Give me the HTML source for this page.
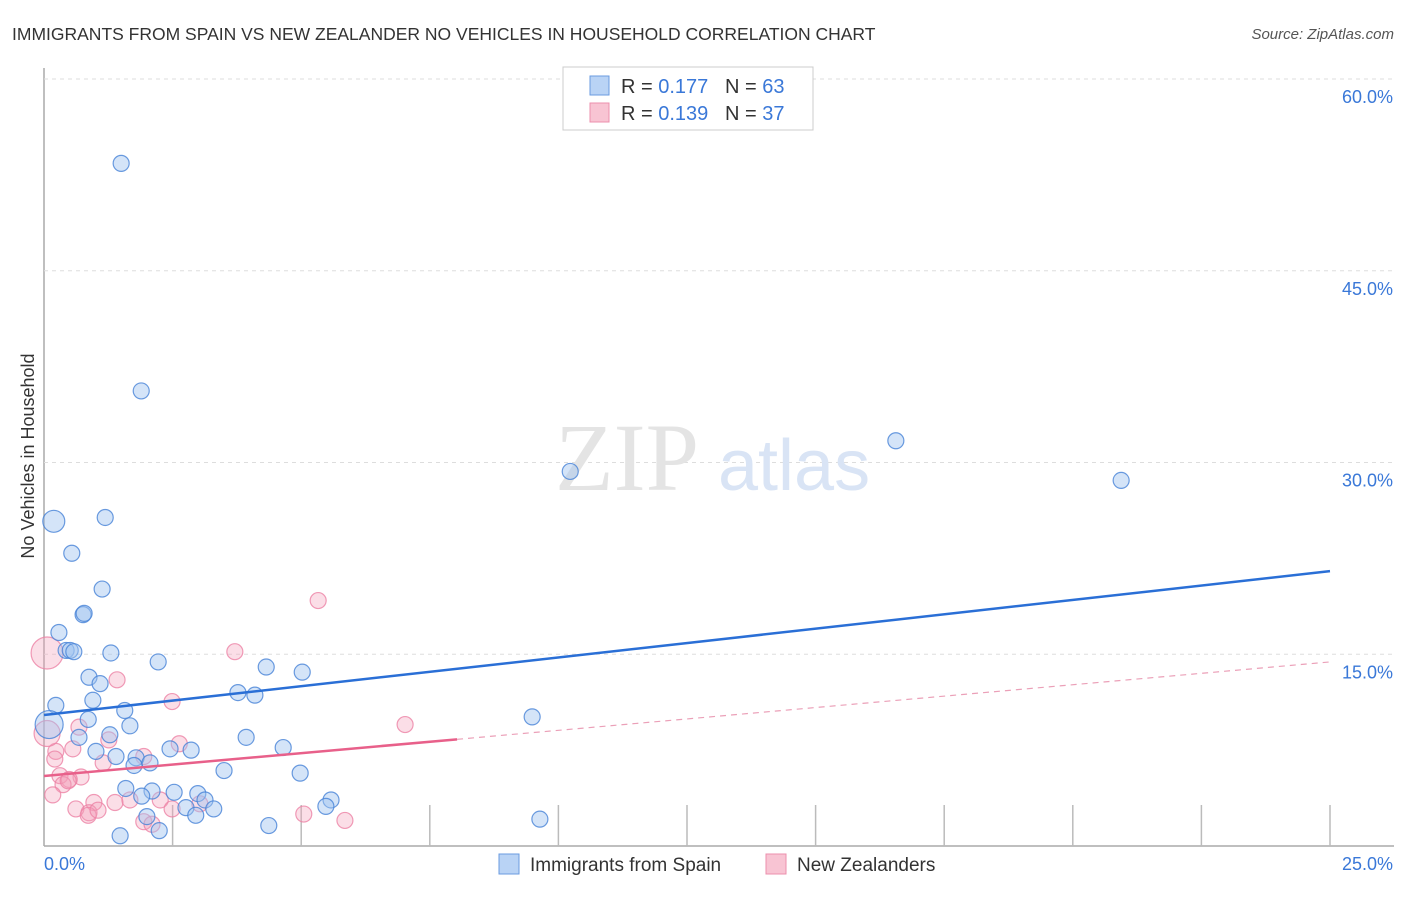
<!DOCTYPE html>
<html><head><meta charset="utf-8"><style>
body{margin:0;background:#fff;font-family:"Liberation Sans",sans-serif;}
svg text{font-family:"Liberation Sans",sans-serif;}
</style></head><body>
<svg id="chart" width="1406" height="892" xmlns="http://www.w3.org/2000/svg">
<text x="12" y="40" font-size="17.5" fill="#333">IMMIGRANTS FROM SPAIN VS NEW ZEALANDER NO VEHICLES IN HOUSEHOLD CORRELATION CHART</text>
<text x="1394" y="39" font-size="15" fill="#555" text-anchor="end" font-style="italic">Source: ZipAtlas.com</text>
<text x="0" y="0" transform="translate(34,456) rotate(-90)" font-size="18" fill="#333" text-anchor="middle">No Vehicles in Household</text>
<g id="grid"></g>
<text x="555" y="490" font-size="96" fill="#e4e4e4" style="font-family:'Liberation Serif',serif">ZIP</text>
<text x="718" y="490" font-size="72" fill="#d9e4f5">atlas</text>
<g id="points"></g>
<g id="trends"></g>
<g>
<rect x="563" y="67" width="250" height="63" fill="#fff" stroke="#ccc"/>
<rect x="590" y="76" width="19" height="19" fill="#b9d3f5" stroke="#6a9be0"/>
<rect x="590" y="103" width="19" height="19" fill="#f8c4d3" stroke="#ec8fac"/>
<text x="621" y="93" font-size="20" fill="#333">R = <tspan fill="#3a78d8">0.177</tspan>&#160;&#160;&#160;N = <tspan fill="#3a78d8">63</tspan></text>
<text x="621" y="120" font-size="20" fill="#333">R = <tspan fill="#3a78d8">0.139</tspan>&#160;&#160;&#160;N = <tspan fill="#3a78d8">37</tspan></text>
</g>
<g>
<rect x="499" y="854" width="20" height="20" fill="#b9d3f5" stroke="#6a9be0"/>
<text x="530" y="871" font-size="19" fill="#333">Immigrants from Spain</text>
<rect x="766" y="854" width="20" height="20" fill="#f8c4d3" stroke="#ec8fac"/>
<text x="797" y="871" font-size="19" fill="#333">New Zealanders</text>
</g>
</svg>
<script>
const yTicks=[15,30,45,60];
const yTickLabels=["15.0%","30.0%","45.0%","60.0%"];
const xTicks=[2.5,5,7.5,10,12.5,15,17.5,20,22.5,25];
const xEndLabels=["0.0%","25.0%"];
const spainX=[1.5,1.89,10.23,16.56,20.94,0.19,1.19,0.54,1.13,0.76,0.78,0.29,0.43,0.51,0.58,1.3,2.22,4.32,5.02,0.875,1.09,3.77,4.1,0.95,1.57,0.23,9.49,0.86,1.67,0.1,0.68,1.28,3.93,2.45,2.86,1.01,4.65,1.4,1.79,2.06,1.75,3.5,4.98,1.59,2.1,2.53,1.9,2.99,3.13,5.58,5.48,2.76,3.3,2.95,2.0,9.64,4.37,2.24,1.48];
const spainY=[53.4,35.6,29.3,31.7,28.6,25.4,25.7,22.9,20.1,18.1,18.2,16.7,15.3,15.3,15.2,15.1,14.4,14.0,13.6,13.2,12.7,12.0,11.8,11.4,10.6,11.0,10.1,9.9,9.4,9.5,8.5,8.7,8.5,7.6,7.5,7.4,7.7,7.0,6.9,6.5,6.3,5.9,5.7,4.5,4.3,4.2,3.9,4.1,3.6,3.6,3.1,3.0,2.9,2.4,2.3,2.1,1.6,1.2,0.8];
const spainR=[8,8,8,8,8,11,8,8,8,8,8,8,8,8,8,8,8,8,8,8,8,8,8,8,8,8,8,8,8,14,8,8,8,8,8,8,8,8,8,8,8,8,8,8,8,8,8,8,8,8,8,8,8,8,8,8,8,8,8];
const nzX=[0.06,5.33,3.71,1.42,2.49,7.02,0.68,1.26,2.63,0.23,1.94,0.56,1.15,0.21,0.72,0.31,0.49,0.37,0.47,0.17,1.38,1.67,2.26,0.97,0.62,0.875,0.86,1.05,3.03,2.49,5.05,5.85,1.94,2.1,0.06];
const nzY=[15.1,19.2,15.2,13.0,11.3,9.5,9.3,8.3,8.0,7.4,7.0,7.6,6.5,6.8,5.4,5.5,5.2,4.8,5.1,4.0,3.4,3.6,3.6,3.4,2.9,2.6,2.4,2.8,3.3,2.9,2.5,2.0,1.9,1.7,8.8];
const nzR=[16,8,8,8,8,8,8,8,8,8,8,8,8,8,8,8,8,8,8,8,8,8,8,8,8,8,8,8,8,8,8,8,8,8,13];
const spainTrend=[10.25,21.5];
const nzTrend=[5.48,14.4];
const nzSolidEnd=8.03;

const X0=44,X1=1330,Y0=846,Y60=79;
function sx(v){return X0+v*(X1-X0)/25;}
function sy(v){return Y0-v*(Y0-Y60)/60;}
const NS="http://www.w3.org/2000/svg";
function mk(tag,attrs,parent){const e=document.createElementNS(NS,tag);for(const k in attrs)e.setAttribute(k,attrs[k]);parent.appendChild(e);return e;}
const grid=document.getElementById('grid');
const ax=mk('line',{x1:X0,y1:68,x2:X0,y2:Y0,stroke:'#aaa','stroke-width':1.5},grid);


const bx=mk('line',{x1:X0,y1:Y0,x2:1394,y2:Y0,stroke:'#aaa','stroke-width':1.5},grid);


yTicks.forEach((t,i)=>{
 const g=mk('line',{x1:X0,y1:sy(t),x2:1394,y2:sy(t),stroke:'#ddd','stroke-dasharray':'4,4'},grid);
 
 
 const tx=mk('text',{x:1393,y:sy(t)+24,'font-size':18,fill:'#3a78d8','text-anchor':'end'},grid);
 tx.textContent=yTickLabels[i];
 
 
});
xTicks.forEach(t=>{
 const l=mk('line',{x1:sx(t),y1:805,x2:sx(t),y2:Y0,stroke:'#bbb','stroke-width':1.5},grid);
 
 
});
const xl0=mk('text',{x:44,y:870,'font-size':18,fill:'#3a78d8'},grid);xl0.textContent=xEndLabels[0];


const xl1=mk('text',{x:1393,y:870,'font-size':18,fill:'#3a78d8','text-anchor':'end'},grid);xl1.textContent=xEndLabels[1];



const pts=document.getElementById('points');
nzX.forEach((x,i)=>{
 const c=mk('circle',{cx:sx(x),cy:sy(nzY[i]),r:nzR[i],fill:'rgba(244,160,186,0.35)',stroke:'rgba(236,130,165,0.8)','stroke-width':1.2},pts);
 
 
});
spainX.forEach((x,i)=>{
 const c=mk('circle',{cx:sx(x),cy:sy(spainY[i]),r:spainR[i],fill:'rgba(160,195,240,0.45)',stroke:'rgba(70,130,215,0.8)','stroke-width':1.2},pts);
 
 
});
const tr=document.getElementById('trends');
const b=mk('line',{x1:sx(0),y1:sy(spainTrend[0]),x2:sx(25),y2:sy(spainTrend[1]),stroke:'#2a6fd6','stroke-width':2.5},tr);


const nzAt=v=>nzTrend[0]+(nzTrend[1]-nzTrend[0])*v/25;
const p1=mk('line',{x1:sx(0),y1:sy(nzTrend[0]),x2:sx(nzSolidEnd),y2:sy(nzAt(nzSolidEnd)),stroke:'#e8608a','stroke-width':2.5},tr);


const p2=mk('line',{x1:sx(nzSolidEnd),y1:sy(nzAt(nzSolidEnd)),x2:sx(25),y2:sy(nzTrend[1]),stroke:'#eba0b8','stroke-width':1.2,'stroke-dasharray':'6,5'},tr);


</script>
</body></html>
